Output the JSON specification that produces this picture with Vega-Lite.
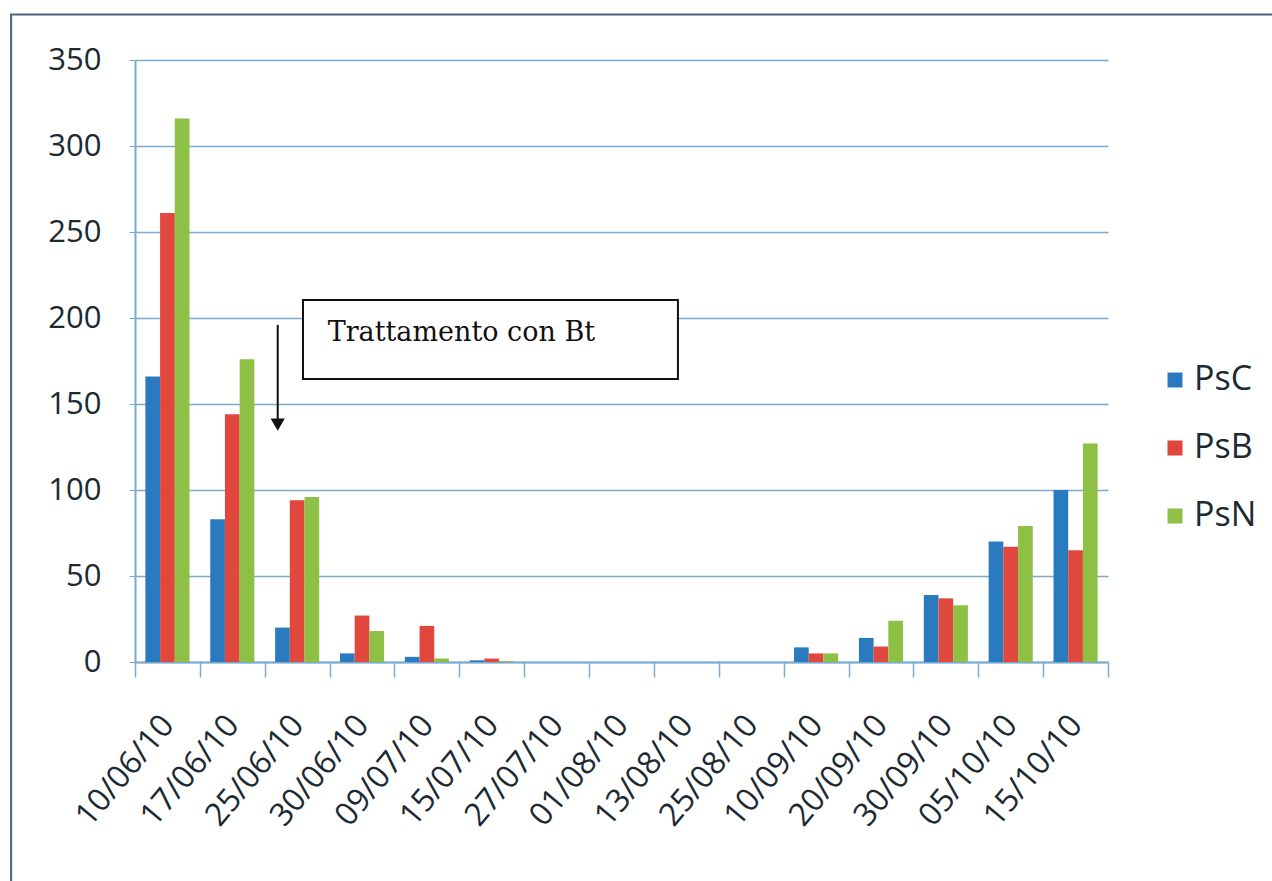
{
  "$schema": "https://vega.github.io/schema/vega-lite/v6.json",
  "width": 973,
  "height": 602,
  "autosize": {"type": "none"},
  "padding": {"left": 135, "top": 60, "right": 164, "bottom": 219},
  "background": "white",
  "config": {"view": {"stroke": null}, "font": "Open Sans"},
  "datasets": {
    "bars": [
      {"date": "10/06/10", "series": "PsC", "value": 166},
      {"date": "10/06/10", "series": "PsB", "value": 261},
      {"date": "10/06/10", "series": "PsN", "value": 316},
      {"date": "17/06/10", "series": "PsC", "value": 83},
      {"date": "17/06/10", "series": "PsB", "value": 144},
      {"date": "17/06/10", "series": "PsN", "value": 176},
      {"date": "25/06/10", "series": "PsC", "value": 20},
      {"date": "25/06/10", "series": "PsB", "value": 94},
      {"date": "25/06/10", "series": "PsN", "value": 96},
      {"date": "30/06/10", "series": "PsC", "value": 5},
      {"date": "30/06/10", "series": "PsB", "value": 27},
      {"date": "30/06/10", "series": "PsN", "value": 18},
      {"date": "09/07/10", "series": "PsC", "value": 3},
      {"date": "09/07/10", "series": "PsB", "value": 21},
      {"date": "09/07/10", "series": "PsN", "value": 2},
      {"date": "15/07/10", "series": "PsC", "value": 1},
      {"date": "15/07/10", "series": "PsB", "value": 2},
      {"date": "15/07/10", "series": "PsN", "value": 0.5},
      {"date": "27/07/10", "series": "PsC", "value": 0},
      {"date": "27/07/10", "series": "PsB", "value": 0},
      {"date": "27/07/10", "series": "PsN", "value": 0},
      {"date": "01/08/10", "series": "PsC", "value": 0},
      {"date": "01/08/10", "series": "PsB", "value": 0},
      {"date": "01/08/10", "series": "PsN", "value": 0},
      {"date": "13/08/10", "series": "PsC", "value": 0},
      {"date": "13/08/10", "series": "PsB", "value": 0},
      {"date": "13/08/10", "series": "PsN", "value": 0},
      {"date": "25/08/10", "series": "PsC", "value": 0},
      {"date": "25/08/10", "series": "PsB", "value": 0},
      {"date": "25/08/10", "series": "PsN", "value": 0},
      {"date": "10/09/10", "series": "PsC", "value": 8.5},
      {"date": "10/09/10", "series": "PsB", "value": 5},
      {"date": "10/09/10", "series": "PsN", "value": 5},
      {"date": "20/09/10", "series": "PsC", "value": 14},
      {"date": "20/09/10", "series": "PsB", "value": 9},
      {"date": "20/09/10", "series": "PsN", "value": 24},
      {"date": "30/09/10", "series": "PsC", "value": 39},
      {"date": "30/09/10", "series": "PsB", "value": 37},
      {"date": "30/09/10", "series": "PsN", "value": 33},
      {"date": "05/10/10", "series": "PsC", "value": 70},
      {"date": "05/10/10", "series": "PsB", "value": 67},
      {"date": "05/10/10", "series": "PsN", "value": 79},
      {"date": "15/10/10", "series": "PsC", "value": 100},
      {"date": "15/10/10", "series": "PsB", "value": 65},
      {"date": "15/10/10", "series": "PsN", "value": 127}
    ],
    "frame": [{"x": -1.91, "x2": 17.6, "y": 376.5, "y2": -140}],
    "box": [{"x": 2.59, "x2": 8.37, "y": 210.5, "y2": 164.5}],
    "label": [{"x": 2.97, "y": 191, "text": "Trattamento con Bt"}],
    "arrow": [{"x": 2.2, "y": 196, "y2": 140}],
    "head": [{"x": 2.2, "y": 138}]
  },
  "layer": [
    {
      "data": {"name": "bars"},
      "mark": {"type": "bar"},
      "encoding": {
        "x": {
          "field": "date", "type": "nominal", "sort": null,
          "scale": {"paddingInner": 0, "paddingOuter": 0},
          "axis": {
            "title": null, "labelAngle": -50, "labelAlign": "right", "labelBaseline": "middle",
            "labelFontSize": 32, "labelColor": "#1c2a33",
            "labelFont": "Open Sans", "tickBand": "extent", "domainColor": "#7aaad0",
            "tickColor": "#7aaad0", "tickSize": 15, "labelPadding": 42, "grid": false,
            "domainWidth": 2, "tickWidth": 1.5
          }
        },
        "xOffset": {"field": "series", "type": "nominal", "sort": ["PsC", "PsB", "PsN"], "scale": {"paddingInner": 0, "paddingOuter": 0.706}},
        "y": {
          "field": "value", "type": "quantitative",
          "scale": {"domain": [0, 350], "nice": false},
          "axis": {
            "title": null, "values": [0, 50, 100, 150, 200, 250, 300, 350],
            "labelFontSize": 31, "labelColor": "#1c2a33", "labelFont": "Open Sans",
            "labelPadding": 28, "grid": true, "gridColor": "#7aaad0", "gridWidth": 1.5,
            "domainColor": "#7aaad0", "tickColor": "#7aaad0", "tickSize": 6, "domainWidth": 2
          }
        },
        "color": {
          "field": "series", "type": "nominal",
          "scale": {"domain": ["PsC", "PsB", "PsN"], "range": ["#2a7ac0", "#e0473d", "#8dc044"]},
          "legend": {
            "title": null, "orient": "none", "legendX": 1023, "legendY": 303, "padding": 0,
            "symbolType": "square", "symbolSize": 225, "symbolStrokeWidth": 0,
            "labelFontSize": 34, "labelColor": "#1c2a33", "labelFont": "Open Sans",
            "rowPadding": 34, "labelOffset": 2
          }
        }
      }
    },
    {
      "data": {"name": "frame"},
      "mark": {"type": "rect", "fill": null, "stroke": "#4b6577", "strokeWidth": 2, "clip": false},
      "encoding": {
        "x": {"field": "x", "type": "quantitative", "scale": {"domain": [0, 15], "nice": false, "zero": false}, "axis": null},
        "x2": {"field": "x2"},
        "y": {"field": "y", "type": "quantitative"},
        "y2": {"field": "y2"}
      }
    },
    {
      "data": {"name": "box"},
      "mark": {"type": "rect", "fill": "white", "stroke": "#111111", "strokeWidth": 2},
      "encoding": {
        "x": {"field": "x", "type": "quantitative", "scale": {"domain": [0, 15], "nice": false, "zero": false}, "axis": null},
        "x2": {"field": "x2"},
        "y": {"field": "y", "type": "quantitative"},
        "y2": {"field": "y2"}
      }
    },
    {
      "data": {"name": "label"},
      "mark": {"type": "text", "align": "left", "baseline": "middle", "font": "DejaVu Serif", "fontSize": 27, "color": "#111111"},
      "encoding": {
        "x": {"field": "x", "type": "quantitative", "scale": {"domain": [0, 15], "nice": false, "zero": false}, "axis": null},
        "y": {"field": "y", "type": "quantitative"},
        "text": {"field": "text"}
      }
    },
    {
      "data": {"name": "arrow"},
      "mark": {"type": "rule", "color": "#111111", "strokeWidth": 2},
      "encoding": {
        "x": {"field": "x", "type": "quantitative", "scale": {"domain": [0, 15], "nice": false, "zero": false}, "axis": null},
        "y": {"field": "y", "type": "quantitative"},
        "y2": {"field": "y2"}
      }
    },
    {
      "data": {"name": "head"},
      "mark": {"type": "point", "shape": "triangle-down", "filled": true, "color": "#111111", "size": 200, "opacity": 1},
      "encoding": {
        "x": {"field": "x", "type": "quantitative", "scale": {"domain": [0, 15], "nice": false, "zero": false}, "axis": null},
        "y": {"field": "y", "type": "quantitative"}
      }
    }
  ],
  "resolve": {"scale": {"x": "independent"}}
}
